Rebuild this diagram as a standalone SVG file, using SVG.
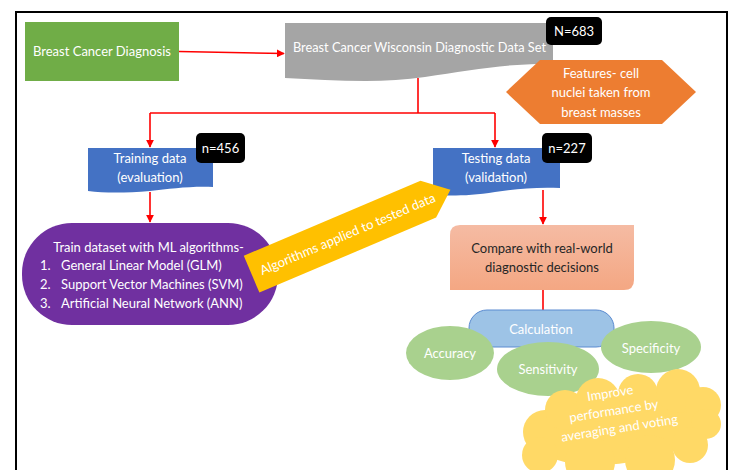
<svg xmlns="http://www.w3.org/2000/svg" width="732" height="470" viewBox="0 0 732 470">
<defs>
<marker id="ah" viewBox="0 0 10 10" refX="9" refY="5" markerWidth="5" markerHeight="5" orient="auto">
<path d="M0,0 L10,5 L0,10 Z" fill="#FF0000"/>
</marker>
<linearGradient id="sal" x1="0" y1="0" x2="0" y2="1">
<stop offset="0" stop-color="#F5BBA3"/>
<stop offset="1" stop-color="#F4A783"/>
</linearGradient>
<style>
text{font-family:Lato,"Open Sans","Liberation Sans",sans-serif;font-size:13px;fill:#fff;}
.c{text-anchor:middle;}
.dark{fill:#262626;}
.ln{fill:none;stroke:#FF0000;stroke-width:1.6;}
.tag{fill:#000;}
.ell{fill:#A9D18E;}
.cl{fill:#FFD966;}
</style>
</defs>
<rect x="0" y="0" width="732" height="470" fill="#fff"/>
<rect x="16" y="12" width="711" height="500" fill="none" stroke="#000" stroke-width="2"/>

<g id="connectors">
<path class="ln" d="M179,51.5 L284,53.5" marker-end="url(#ah)"/>
<path class="ln" d="M418,78 V113"/>
<path class="ln" d="M150,113 H495"/>
<path class="ln" d="M150,113 V147" marker-end="url(#ah)"/>
<path class="ln" d="M495,113 V147" marker-end="url(#ah)"/>
<path class="ln" d="M150,192 V222" marker-end="url(#ah)"/>
<path class="ln" d="M543,190 V224" marker-end="url(#ah)"/>
<path class="ln" d="M543,290 V310"/>
</g>

<g id="diagnosis">
<rect x="25" y="22" width="154" height="59" fill="#70AD47"/>
<text class="c" x="102" y="56">Breast Cancer Diagnosis</text>
</g>

<g id="dataset">
<path d="M285,23 H553 V64 C510,63 470,70 425,77 C380,84 330,80 285,78 Z" fill="#A5A5A5"/>
<text x="293" y="52" textLength="253" lengthAdjust="spacingAndGlyphs">Breast Cancer Wisconsin Diagnostic Data Set</text>
</g>

<g id="n683">
<rect class="tag" x="546" y="17" width="56" height="28" rx="5"/>
<text class="c" x="574" y="36">N=683</text>
</g>

<g id="features">
<polygon points="506,92 540,60 662,60 696,92 662,124 540,124" fill="#ED7D31"/>
<text class="c" x="601" y="78">Features- cell</text>
<text class="c" x="601" y="97">nuclei taken from</text>
<text class="c" x="601" y="117">breast masses</text>
</g>

<g id="training">
<path d="M88,148 H213 V187 C190,186 170,189 150,191 C125,193 105,193 88,191 Z" fill="#4472C4"/>
<text class="c" x="150" y="163">Training data</text>
<text class="c" x="150" y="182">(evaluation)</text>
</g>

<g id="n456">
<rect class="tag" x="196" y="133" width="49" height="30" rx="5"/>
<text class="c" x="220.5" y="153">n=456</text>
</g>

<g id="testing">
<path d="M433,148 H560 V188 C535,187 515,189 495,192 C470,196 450,196 433,195 Z" fill="#4472C4"/>
<text class="c" x="496" y="163">Testing data</text>
<text class="c" x="496" y="182">(validation)</text>
</g>

<g id="n227">
<rect class="tag" x="542" y="133" width="50" height="30" rx="5"/>
<text class="c" x="567" y="153">n=227</text>
</g>

<g id="train">
<rect x="22" y="223" width="256" height="102" rx="50" fill="#7030A0"/>
<text class="c" x="148.5" y="252">Train dataset with ML algorithms-</text>
<text x="40" y="270">1.</text><text x="61" y="270">General Linear Model (GLM)</text>
<text x="40" y="289">2.</text><text x="61" y="289">Support Vector Machines (SVM)</text>
<text x="40" y="308">3.</text><text x="61" y="308">Artificial Neural Network (ANN)</text>
</g>

<g id="applied" transform="translate(351,232) rotate(-23)">
<polygon points="-108,-20 84,-20 108,0 84,20 -108,20" fill="#FFC000"/>
<text class="c" x="-4" y="5">Algorithms applied to tested data</text>
</g>

<g id="compare">
<path d="M460,225 H634 V280 Q634,290 624,290 H450 V235 Q450,225 460,225 Z" fill="url(#sal)"/>
<text class="c dark" x="542" y="253">Compare with real-world</text>
<text class="c dark" x="542" y="272">diagnostic decisions</text>
</g>

<g id="calculation">
<rect x="469" y="310" width="145" height="37" rx="18" fill="#9DC3E6" stroke="#5B8BD0" stroke-width="1"/>
<text class="c" x="541" y="334">Calculation</text>
</g>

<g id="accuracy">
<ellipse class="ell" cx="450" cy="353" rx="44" ry="27"/>
<text class="c" x="450" y="358">Accuracy</text>
</g>

<g id="sensitivity">
<ellipse class="ell" cx="548" cy="369" rx="51" ry="27"/>
<text class="c" x="548" y="374">Sensitivity</text>
</g>

<g id="specificity">
<ellipse class="ell" cx="651" cy="347" rx="50" ry="26"/>
<text class="c" x="651" y="353">Specificity</text>
</g>

<g id="improve">
<ellipse class="cl" cx="622" cy="427" rx="88" ry="36" transform="rotate(-9 622 427)"/>
<circle class="cl" cx="545" cy="432" r="22"/>
<circle class="cl" cx="540" cy="455" r="18"/>
<circle class="cl" cx="565" cy="410" r="20"/>
<circle class="cl" cx="598" cy="400" r="22"/>
<circle class="cl" cx="638" cy="394" r="20"/>
<circle class="cl" cx="678" cy="391" r="22"/>
<circle class="cl" cx="703" cy="405" r="18"/>
<circle class="cl" cx="706" cy="424" r="15"/>
<circle class="cl" cx="690" cy="445" r="18"/>
<circle class="cl" cx="650" cy="460" r="25"/>
<circle class="cl" cx="590" cy="462" r="25"/>
<g transform="rotate(-9 615 412)">
<text class="c" x="613" y="397">Improve</text>
<text class="c" x="614" y="415">performance by</text>
<text class="c" x="617" y="433">averaging and voting</text>
</g>
</g>
</svg>
